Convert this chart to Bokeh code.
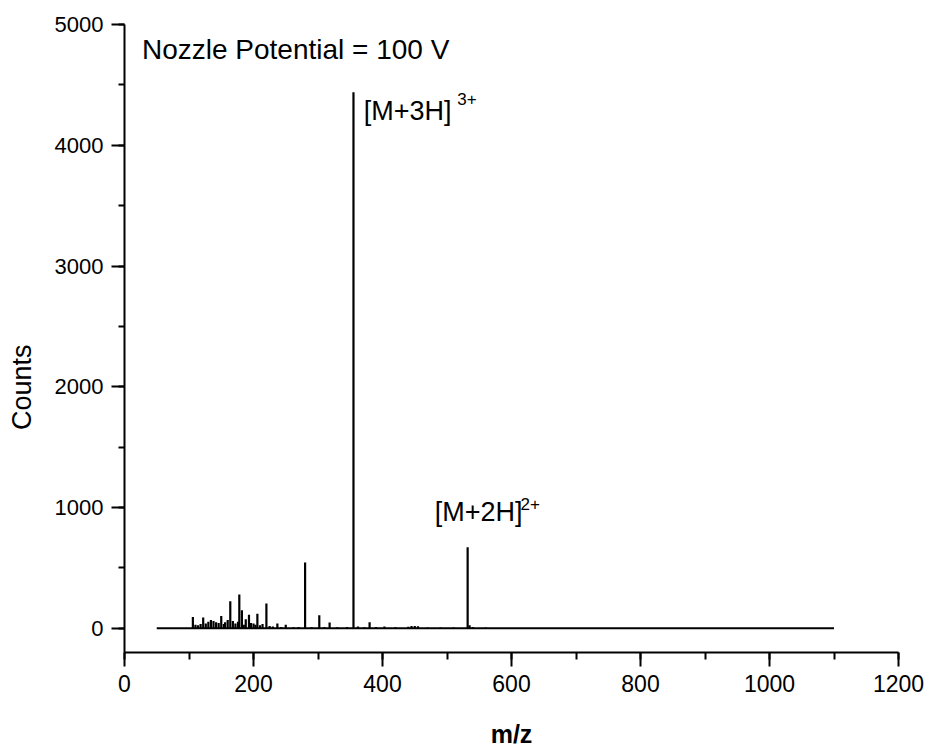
import math
from bokeh.plotting import figure
from bokeh.models import Range1d, SingleIntervalTicker, Label, ColumnDataSource
from bokeh.embed import file_html
from bokeh.resources import INLINE

# ---- data ----
scan_range = [50, 1100]          # m/z range of the acquired baseline
peak_mz = [355, 532, 280, 302, 318, 178, 164, 220, 106, 122, 150, 182, 188, 193,
           206, 200, 160, 237, 250, 380, 403, 450, 455, 535,
           110, 114, 118, 126, 130, 134, 138, 142, 146, 154, 156, 168, 172, 176,
           185, 196, 203, 210, 214, 225, 230, 243, 262, 270, 290, 310, 330, 345,
           362, 372, 390, 420, 440, 445, 470, 490, 510, 540, 560]
peak_counts = [4440, 672, 545, 108, 48, 280, 224, 205, 94, 90, 102, 149, 75, 113,
               121, 40, 70, 40, 30, 50, 15, 20, 18, 25,
               30, 25, 35, 40, 55, 70, 60, 50, 45, 35, 50, 60, 40, 55,
               30, 45, 30, 25, 35, 20, 15, 12, 10, 12, 10, 12, 10, 12,
               15, 10, 12, 10, 14, 20, 8, 8, 8, 12, 6]
x_ticks_interval = 200
y_ticks_interval = 1000

FONT = "Liberation Sans"

p = figure(frame_width=774, frame_height=628,
           x_range=Range1d(0, 1200), y_range=Range1d(-200, 5000),
           output_backend="svg", toolbar_location=None,
           min_border_left=124, min_border_right=30,
           min_border_top=24, min_border_bottom=97)
p.grid.visible = False
p.outline_line_color = None
p.background_fill_color = "white"
p.border_fill_color = "white"

# baseline + stick spectrum
p.line(x=scan_range, y=[0, 0], line_color="black", line_width=2)
src = ColumnDataSource(dict(mz=peak_mz, c=peak_counts, z=[0] * len(peak_mz)))
p.segment(x0="mz", y0="z", x1="mz", y1="c", source=src, line_color="black", line_width=2.2)

p.xaxis.ticker = SingleIntervalTicker(interval=x_ticks_interval, num_minor_ticks=2)
p.yaxis.ticker = SingleIntervalTicker(interval=y_ticks_interval, num_minor_ticks=2)

for ax in (p.xaxis, p.yaxis):
    ax.axis_line_width = 2
    ax.axis_line_color = "black"
    ax.major_tick_line_width = 2
    ax.minor_tick_line_width = 2
    ax.major_tick_line_color = "black"
    ax.minor_tick_line_color = "black"
    ax.major_tick_in = 0
    ax.minor_tick_in = 0
    ax.major_label_text_font = FONT
    ax.major_label_text_color = "black"
    ax.major_label_standoff = 8

p.xaxis.major_tick_out = 14
p.xaxis.minor_tick_out = 7
p.yaxis.major_tick_out = 13
p.yaxis.minor_tick_out = 6
p.xaxis.major_label_text_font_size = "23px"
p.yaxis.major_label_text_font_size = "22px"

p.xaxis.axis_label = "m/z"
p.xaxis.axis_label_text_font = FONT
p.xaxis.axis_label_text_font_size = "25px"
p.xaxis.axis_label_text_font_style = "bold"
p.xaxis.axis_label_text_color = "black"
p.xaxis.axis_label_standoff = 25

# y label sits a little below the frame centre in the original
p.yaxis.axis_label = "Counts" + "\u00a0" * 13
p.yaxis.axis_label_text_font = FONT
p.yaxis.axis_label_text_font_size = "27px"
p.yaxis.axis_label_text_font_style = "normal"
p.yaxis.axis_label_text_color = "black"
p.yaxis.axis_label_standoff = 15

p.add_layout(Label(x=27, y=4797, text="Nozzle Potential = 100 V",
                   text_font=FONT, text_font_size="28px", text_color="black",
                   text_baseline="alphabetic"))

p.add_layout(Label(x=371, y=4283, text="[M+3H]", text_font=FONT,
                   text_font_size="27px", text_color="black", text_baseline="alphabetic"))
p.add_layout(Label(x=516, y=4383, text="3+", text_font=FONT,
                   text_font_size="17px", text_color="black", text_baseline="alphabetic"))

p.add_layout(Label(x=481, y=960, text="[M+2H]", text_font=FONT,
                   text_font_size="27px", text_color="black", text_baseline="alphabetic"))
p.add_layout(Label(x=614, y=1033, text="2+", text_font=FONT,
                   text_font_size="17px", text_color="black", text_baseline="alphabetic"))

open("out.html", "w").write(file_html(p, INLINE))
